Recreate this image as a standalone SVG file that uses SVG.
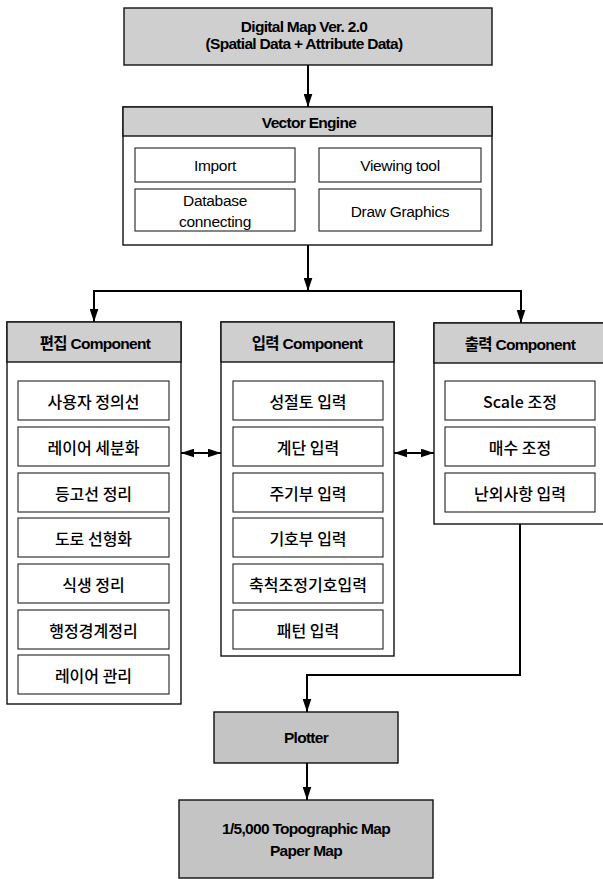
<svg xmlns="http://www.w3.org/2000/svg" width="603" height="879" viewBox="0 0 603 879">
<style>
.hdr{fill:#cfcfcf;stroke:#111;stroke-width:1.4}
.dk{fill:#c4c4c4;stroke:#111;stroke-width:1.4}
.box{fill:#fff;stroke:#111;stroke-width:1.4}
.item{fill:#fff;stroke:#222;stroke-width:1.1}
.t{font-family:"Liberation Sans","Noto Sans CJK KR",sans-serif;text-anchor:middle;dominant-baseline:central;fill:#000}
.b{font-weight:bold;font-size:15.5px;letter-spacing:-0.7px}
.r{font-size:15.5px;letter-spacing:-0.3px}
.k{font-family:"Noto Sans CJK KR",sans-serif;font-size:16px;font-weight:500}
.ln{fill:none;stroke:#000;stroke-width:2}
</style>
<defs>
<marker id="ah" viewBox="0 0 12 8" refX="12" refY="4" markerWidth="13" markerHeight="9" markerUnits="userSpaceOnUse" orient="auto-start-reverse">
<path d="M0,0 L12,4 L0,8 z" fill="#000"/>
</marker>
</defs>

<g id="digital-map">
<rect class="hdr" x="124" y="8" width="368" height="57"/>
<text class="t b" x="304" y="26">Digital Map Ver. 2.0</text>
<text class="t b" x="304" y="43">(Spatial Data + Attribute Data)</text>
</g>

<g id="vector-engine">
<rect class="box" x="123" y="107" width="369" height="138"/>
<rect class="hdr" x="123" y="107" width="369" height="29"/>
<text class="t b" x="309" y="122">Vector Engine</text>
<rect class="item" x="135" y="148" width="160" height="34"/>
<text class="t r" x="215" y="165">Import</text>
<rect class="item" x="319" y="148" width="162" height="34"/>
<text class="t r" x="400" y="165">Viewing tool</text>
<rect class="item" x="135" y="189" width="160" height="42"/>
<text class="t r" x="215" y="200">Database</text>
<text class="t r" x="215" y="221">connecting</text>
<rect class="item" x="319" y="189" width="162" height="42"/>
<text class="t r" x="400" y="211">Draw Graphics</text>
</g>

<g id="edit-component">
<rect class="box" x="7" y="322" width="174" height="382"/>
<rect class="hdr" x="7" y="322" width="174" height="40"/>
<text class="t b" x="95" y="343">편집 Component</text>
<rect class="item" x="18" y="381" width="151" height="39"/>
<text class="t k" x="93.5" y="400.5">사용자 정의선</text>
<rect class="item" x="18" y="427" width="151" height="39"/>
<text class="t k" x="93.5" y="446.5">레이어 세분화</text>
<rect class="item" x="18" y="473" width="151" height="39"/>
<text class="t k" x="93.5" y="492.5">등고선 정리</text>
<rect class="item" x="18" y="518" width="151" height="39"/>
<text class="t k" x="93.5" y="537.5">도로 선형화</text>
<rect class="item" x="18" y="564" width="151" height="39"/>
<text class="t k" x="93.5" y="583.5">식생 정리</text>
<rect class="item" x="18" y="610" width="151" height="39"/>
<text class="t k" x="93.5" y="629.5">행정경계정리</text>
<rect class="item" x="18" y="655" width="151" height="39"/>
<text class="t k" x="93.5" y="674.5">레이어 관리</text>
</g>

<g id="input-component">
<rect class="box" x="221" y="322" width="173" height="334"/>
<rect class="hdr" x="221" y="322" width="173" height="40"/>
<text class="t b" x="307" y="343">입력 Component</text>
<rect class="item" x="233" y="381" width="150" height="39"/>
<text class="t k" x="308" y="400.5">성절토 입력</text>
<rect class="item" x="233" y="427" width="150" height="39"/>
<text class="t k" x="308" y="446.5">계단 입력</text>
<rect class="item" x="233" y="473" width="150" height="39"/>
<text class="t k" x="308" y="492.5">주기부 입력</text>
<rect class="item" x="233" y="518" width="150" height="39"/>
<text class="t k" x="308" y="537.5">기호부 입력</text>
<rect class="item" x="233" y="564" width="150" height="39"/>
<text class="t k" x="308" y="583.5">축척조정기호입력</text>
<rect class="item" x="233" y="610" width="150" height="39"/>
<text class="t k" x="308" y="629.5">패턴 입력</text>
</g>

<g id="output-component">
<rect class="box" x="434" y="323" width="172" height="201"/>
<rect class="hdr" x="434" y="323" width="172" height="40"/>
<text class="t b" x="520" y="344">출력 Component</text>
<rect class="item" x="445" y="381" width="150" height="39"/>
<text class="t k" x="520" y="400.5">Scale 조정</text>
<rect class="item" x="445" y="427" width="150" height="39"/>
<text class="t k" x="520" y="446.5">매수 조정</text>
<rect class="item" x="445" y="473" width="150" height="39"/>
<text class="t k" x="520" y="492.5">난외사항 입력</text>
</g>

<g id="plotter">
<rect class="dk" x="214" y="712" width="184" height="51"/>
<text class="t b" x="306" y="737">Plotter</text>
</g>

<g id="paper-map">
<rect class="dk" x="179" y="800" width="254" height="78"/>
<text class="t b" x="306" y="828">1/5,000 Topographic Map</text>
<text class="t b" x="306" y="850">Paper Map</text>
</g>

<g id="connectors">
<path class="ln" d="M308,65 V107" marker-end="url(#ah)"/>
<path class="ln" d="M308,245 V291" marker-end="url(#ah)"/>
<path class="ln" d="M94,322 V291 H521 V323" marker-start="url(#ah)" marker-end="url(#ah)"/>
<path class="ln" d="M181,453 H221" marker-start="url(#ah)" marker-end="url(#ah)"/>
<path class="ln" d="M394,453 H434" marker-start="url(#ah)" marker-end="url(#ah)"/>
<path class="ln" d="M520,524 V675 H307 V712" marker-end="url(#ah)"/>
<path class="ln" d="M307,763 V800" marker-end="url(#ah)"/>
</g>
</svg>
